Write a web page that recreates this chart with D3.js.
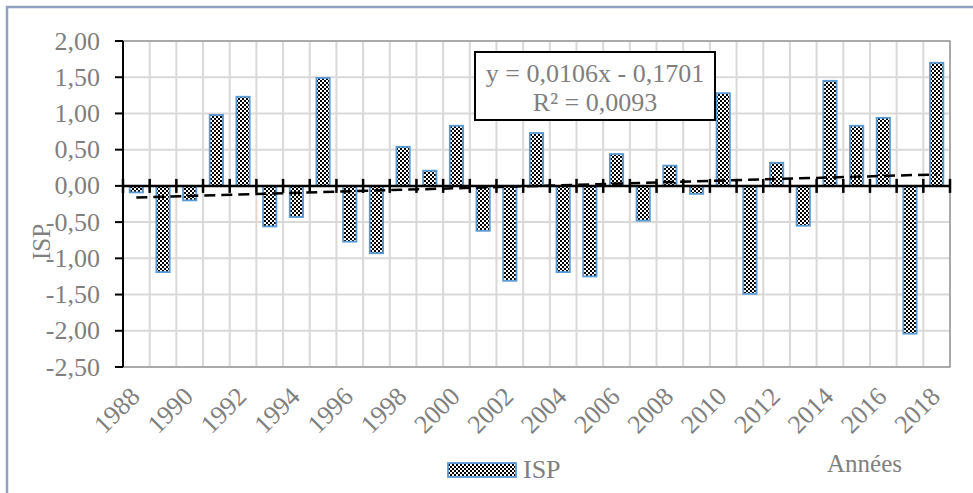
<!DOCTYPE html>
<html>
<head>
<meta charset="utf-8">
<script src="https://cdn.jsdelivr.net/npm/d3@7"></script>
<style>
  body { margin: 0; background: #fff; }
  svg text { font-family: "Liberation Serif", "Times New Roman", serif; fill: #7f7f7f; }
</style>
</head>
<body>
<svg width="973" height="493"></svg>
<script>
let width = 973, height = 493;

// data
let years = d3.range(1988, 2019);
let isp = [-0.09, -1.19, -0.20, 0.98, 1.23, -0.56, -0.43, 1.49, -0.77, -0.93,
           0.54, 0.21, 0.83, -0.62, -1.31, 0.73, -1.19, -1.25, 0.44, -0.48,
           0.28, -0.11, 1.28, -1.49, 0.32, -0.55, 1.45, 0.83, 0.94, -2.04, 1.70];
let yTicks = [2, 1.5, 1, 0.5, 0, -0.5, -1, -1.5, -2, -2.5];
let xLabels = d3.range(1988, 2019, 2);
let slope = 0.0106, intercept = -0.1701;
let eqLines = ["y = 0,0106x - 0,1701", "R² = 0,0093"];

let margin = {left: 123, right: 950, top: 41, bottom: 367};

let svg = d3.select("svg");

// pattern for the bars
let defs = svg.append("defs");
let pat = defs.append("pattern")
    .attr("id", "checker")
    .attr("patternUnits", "userSpaceOnUse")
    .attr("width", 4).attr("height", 4);
pat.append("rect").attr("width", 4).attr("height", 4).attr("fill", "#fff");
pat.append("rect").attr("width", 2).attr("height", 2).attr("fill", "#000");
pat.append("rect").attr("x", 2).attr("y", 2).attr("width", 2).attr("height", 2).attr("fill", "#000");

// outer chart border (right and bottom edges fall outside the picture)
svg.append("rect")
    .attr("x", 7).attr("y", 7)
    .attr("width", 1100).attr("height", 600)
    .attr("fill", "none")
    .attr("stroke", "#8ea3bf")
    .attr("stroke-width", 2.5);

let x = d3.scaleBand()
    .domain(years)
    .range([margin.left, margin.right])
    .paddingInner(0.5)
    .paddingOuter(0.25);

let y = d3.scaleLinear()
    .domain([-2.5, 2])
    .range([margin.bottom, margin.top]);

let gap = (x.step() - x.bandwidth()) / 2;
let bounds = years.map(d => x(d) - gap).concat([margin.right]);

// gridlines
svg.append("g").selectAll("line")
    .data(yTicks)
    .enter().append("line")
    .attr("x1", margin.left).attr("x2", margin.right)
    .attr("y1", d => y(d)).attr("y2", d => y(d))
    .attr("stroke", "#d9d9d9").attr("stroke-width", 2);

svg.append("g").selectAll("line")
    .data(bounds)
    .enter().append("line")
    .attr("x1", d => d).attr("x2", d => d)
    .attr("y1", margin.top).attr("y2", margin.bottom)
    .attr("stroke", "#d9d9d9").attr("stroke-width", 2);

// plot area border
svg.append("rect")
    .attr("x", margin.left).attr("y", margin.top)
    .attr("width", margin.right - margin.left)
    .attr("height", margin.bottom - margin.top)
    .attr("fill", "none")
    .attr("stroke", "#9a9a9a")
    .attr("stroke-width", 1.5);

// bars
svg.append("g").selectAll("rect")
    .data(isp)
    .enter().append("rect")
    .attr("x", (d, i) => x(years[i]))
    .attr("width", x.bandwidth())
    .attr("y", d => y(Math.max(0, d)))
    .attr("height", d => Math.abs(y(d) - y(0)))
    .attr("fill", "url(#checker)")
    .attr("stroke", "#5b9bd5")
    .attr("stroke-width", 1.8);

// y axis
svg.append("line")
    .attr("x1", margin.left).attr("x2", margin.left)
    .attr("y1", margin.top).attr("y2", margin.bottom)
    .attr("stroke", "#000").attr("stroke-width", 2);

svg.append("g").selectAll("line")
    .data(yTicks)
    .enter().append("line")
    .attr("x1", margin.left - 8).attr("x2", margin.left)
    .attr("y1", d => y(d)).attr("y2", d => y(d))
    .attr("stroke", "#000").attr("stroke-width", 2);

let fmt = d => d3.format(".2f")(d).replace(".", ",").replace("−", "-");
svg.append("g").selectAll("text")
    .data(yTicks)
    .enter().append("text")
    .attr("x", 100)
    .attr("y", d => y(d))
    .attr("dy", "0.33em")
    .attr("text-anchor", "end")
    .style("font-size", "26px")
    .text(fmt);

// x axis at zero
svg.append("line")
    .attr("x1", margin.left).attr("x2", margin.right)
    .attr("y1", y(0)).attr("y2", y(0))
    .attr("stroke", "#000").attr("stroke-width", 2.5);

svg.append("g").selectAll("line")
    .data(bounds)
    .enter().append("line")
    .attr("x1", d => d).attr("x2", d => d)
    .attr("y1", y(0) - 7).attr("y2", y(0) + 7)
    .attr("stroke", "#000").attr("stroke-width", 2.5);

// x labels
svg.append("g").selectAll("text")
    .data(xLabels)
    .enter().append("text")
    .attr("transform", d => "translate(" + (x(d) + x.bandwidth() / 2 + 5) + ",398) rotate(-45)")
    .attr("text-anchor", "end")
    .style("font-size", "26px")
    .text(d => d);

// trend line
let trend = years.map((d, i) => [x(d) + x.bandwidth() / 2, slope * (i + 1) + intercept]);
svg.append("path")
    .datum([trend[0], trend[trend.length - 1]])
    .attr("d", d3.line().x(d => d[0]).y(d => y(d[1])))
    .attr("fill", "none")
    .attr("stroke", "#000")
    .attr("stroke-width", 2.5)
    .attr("stroke-dasharray", "11,6");

// equation box
svg.append("rect")
    .attr("x", 475).attr("y", 52)
    .attr("width", 240).attr("height", 68)
    .attr("fill", "#fff")
    .attr("stroke", "#000")
    .attr("stroke-width", 2);

svg.append("g").selectAll("text")
    .data(eqLines)
    .enter().append("text")
    .attr("x", 595)
    .attr("y", (d, i) => 82 + i * 29)
    .attr("text-anchor", "middle")
    .style("font-size", "26px")
    .text(d => d);

// y title
svg.append("text")
    .attr("transform", "translate(50,242) rotate(-90)")
    .attr("text-anchor", "middle")
    .style("font-size", "25px")
    .text("ISP");

// legend
svg.append("rect")
    .attr("x", 448).attr("y", 463)
    .attr("width", 68).attr("height", 14)
    .attr("fill", "url(#checker)")
    .attr("stroke", "#5b9bd5")
    .attr("stroke-width", 1.8);

svg.append("text")
    .attr("x", 523).attr("y", 478)
    .style("font-size", "26px")
    .text("ISP");

svg.append("text")
    .attr("x", 827).attr("y", 472)
    .style("font-size", "25px")
    .text("Années");
</script>
</body>
</html>
